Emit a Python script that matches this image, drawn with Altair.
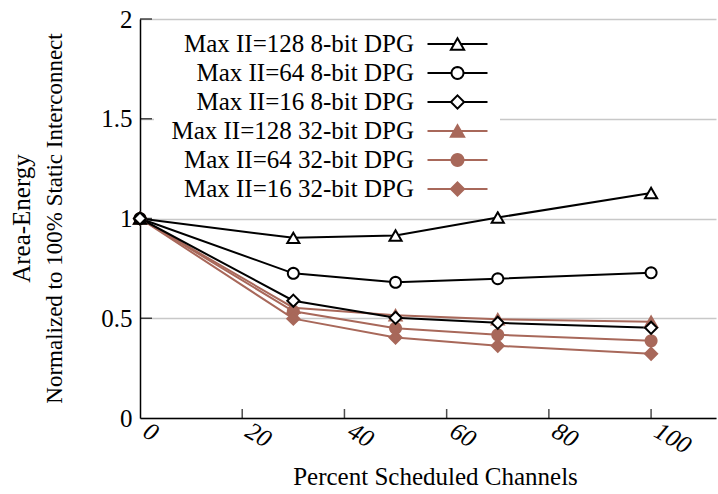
import math
import altair as alt
import pandas as pd

# ---- data ----
series_names = [
    "Max II=128 8-bit DPG",
    "Max II=64 8-bit DPG",
    "Max II=16 8-bit DPG",
    "Max II=128 32-bit DPG",
    "Max II=64 32-bit DPG",
    "Max II=16 32-bit DPG",
]
percent = [0, 30, 50, 70, 100]
ii128_8bit = [1.0, 0.903, 0.915, 1.005, 1.128]
ii64_8bit = [1.0, 0.725, 0.68, 0.698, 0.728]
ii16_8bit = [1.0, 0.588, 0.502, 0.477, 0.452]
ii128_32bit = [1.0, 0.553, 0.515, 0.495, 0.482]
ii64_32bit = [1.0, 0.535, 0.45, 0.417, 0.387]
ii16_32bit = [1.0, 0.498, 0.403, 0.362, 0.322]

x_tick_values = [20, 40, 60, 80, 100]
x_label_values = [0, 20, 40, 60, 80, 100]
y_tick_values = [0.5, 1, 1.5, 2]
y_label_values = [0, 0.5, 1, 1.5, 2]

values_by_series = {
    series_names[0]: ii128_8bit,
    series_names[1]: ii64_8bit,
    series_names[2]: ii16_8bit,
    series_names[3]: ii128_32bit,
    series_names[4]: ii64_32bit,
    series_names[5]: ii16_32bit,
}

# 32-bit rows first so the 8-bit series are drawn on top
draw_order = series_names[3:] + series_names[:3]
rows = []
for s in draw_order:
    for p, v in zip(percent, values_by_series[s]):
        rows.append({"percent": p, "value": v, "series": s})
df = pd.DataFrame(rows)
xtick_df = pd.DataFrame({"percent": x_tick_values})
ytick_df = pd.DataFrame({"value": y_tick_values})

# ---- styles ----
BLACK = "#000000"
BROWN = "#a8685a"
FONT = "Liberation Serif"
stroke_colors = [BLACK, BLACK, BLACK, BROWN, BROWN, BROWN]
fill_colors = ["white", "white", "white", BROWN, BROWN, BROWN]


def ngon(r, n=28):
    pts = [(r * math.cos(2 * math.pi * k / n), r * math.sin(2 * math.pi * k / n)) for k in range(n)]
    return "M" + "L".join(f"{x:.3f},{y:.3f}" for x, y in pts) + "Z"


tri_marker = "M0,-0.95L1.1,0.95L-1.1,0.95Z"
circ_marker = ngon(1.0)
diam_marker = "M0,-1.1L1.1,0L0,1.1L-1.1,0Z"
marker_paths = [tri_marker, circ_marker, diam_marker] * 2

tri_leg = "M-5,0L-0.55,0M0.55,0L5,0" + tri_marker
circ_leg = "M-5,0L-1,0M1,0L5,0" + circ_marker
diam_leg = "M-5,0L-1.1,0M1.1,0L5,0" + diam_marker
legend_paths = [tri_leg, circ_leg, diam_leg] * 2

xscale = alt.Scale(domain=[0, 112.7], nice=False, zero=False)
yscale = alt.Scale(domain=[0, 2], nice=False)

x_axis = alt.Axis(
    values=x_label_values,
    labelAngle=30,
    labelAlign="left",
    labelBaseline="top",
    labelFont=FONT,
    labelFontStyle="italic",
    labelFontSize=25,
    labelColor="black",
    labelOffset=11,
    labelPadding=0,
    ticks=False,
    grid=False,
    domainColor="black",
    domainWidth=1.5,
    title="Percent Scheduled Channels",
    titleFont=FONT,
    titleFontSize=25,
    titleFontWeight="normal",
    titleColor="black",
    titlePadding=6,
    titleX=295,
)
y_axis = alt.Axis(
    values=y_label_values,
    format="~g",
    labelFont=FONT,
    labelFontSize=25,
    labelColor="black",
    labelPadding=8,
    ticks=False,
    domainColor="black",
    domainWidth=1.5,
    gridColor="#c8c8c8",
    gridWidth=1.5,
    title=None,
)

X = alt.X("percent:Q", scale=xscale, axis=x_axis)
Y = alt.Y("value:Q", scale=yscale, axis=y_axis)

lines = alt.Chart(df).mark_line(strokeWidth=2).encode(
    x=X,
    y=Y,
    color=alt.Color("series:N", scale=alt.Scale(domain=series_names, range=stroke_colors), legend=None),
)

points = alt.Chart(df).mark_point(filled=False, strokeWidth=2, opacity=1, size=121).encode(
    x=X,
    y=Y,
    color=alt.Color("series:N", scale=alt.Scale(domain=series_names, range=stroke_colors), legend=None),
    fill=alt.Fill("series:N", scale=alt.Scale(domain=series_names, range=fill_colors), legend=None),
    shape=alt.Shape("series:N", scale=alt.Scale(domain=series_names, range=marker_paths), legend=None),
)

legend = alt.Legend(
    title=None,
    orient="none",
    legendX=14,
    legendY=4.5,
    padding=8,
    fillColor="white",
    labelFont=FONT,
    labelFontSize=25,
    labelColor="black",
    labelAlign="right",
    labelLimit=500,
    labelOffset={"expr": "-56"},
    symbolOffset=283,
    symbolSize=144,
    symbolStrokeWidth=2,
    symbolOpacity=1,
    rowPadding=3,
)

legend_layer = (
    alt.Chart(df)
    .transform_filter("false")
    .mark_point(filled=False, strokeWidth=2, opacity=1)
    .encode(
        x=X,
        y=Y,
        color=alt.Color("series:N", scale=alt.Scale(domain=series_names, range=stroke_colors), legend=legend),
        fill=alt.Fill("series:N", scale=alt.Scale(domain=series_names, range=fill_colors), legend=legend),
        shape=alt.Shape("series:N", scale=alt.Scale(domain=series_names, range=legend_paths), legend=legend),
    )
)

y_ticks = alt.Chart(ytick_df).mark_tick(orient="horizontal", size=12, thickness=1.5, color="black").encode(
    y=Y,
    x=alt.value(6),
)
x_ticks = alt.Chart(xtick_df).mark_tick(orient="vertical", size=9, thickness=1.5, color="black").encode(
    x=X,
    y=alt.value(394.5),
)

chart = (
    alt.layer(lines, y_ticks, x_ticks, points, legend_layer)
    .resolve_scale(color="independent", fill="independent", shape="independent")
    .properties(
        width=576,
        height=399,
        padding={"left": 140, "top": 19, "right": 2, "bottom": 76},
        autosize=alt.AutoSizeParams(type="none"),
        background="white",
        title=alt.TitleParams(
            text="Area-Energy",
            subtitle="Normalized to 100% Static Interconnect",
            orient="left",
            anchor="middle",
            font=FONT,
            fontSize=25,
            fontWeight="normal",
            color="black",
            subtitleFont=FONT,
            subtitleFontSize=23,
            subtitleColor="black",
            offset=34,
            subtitlePadding=9,
        ),
    )
    .configure_view(stroke=None)
    .configure_legend(symbolFillColor="white", symbolStrokeColor="black")
)

chart.save("out.html", embed_options={"renderer": "svg", "actions": False})
